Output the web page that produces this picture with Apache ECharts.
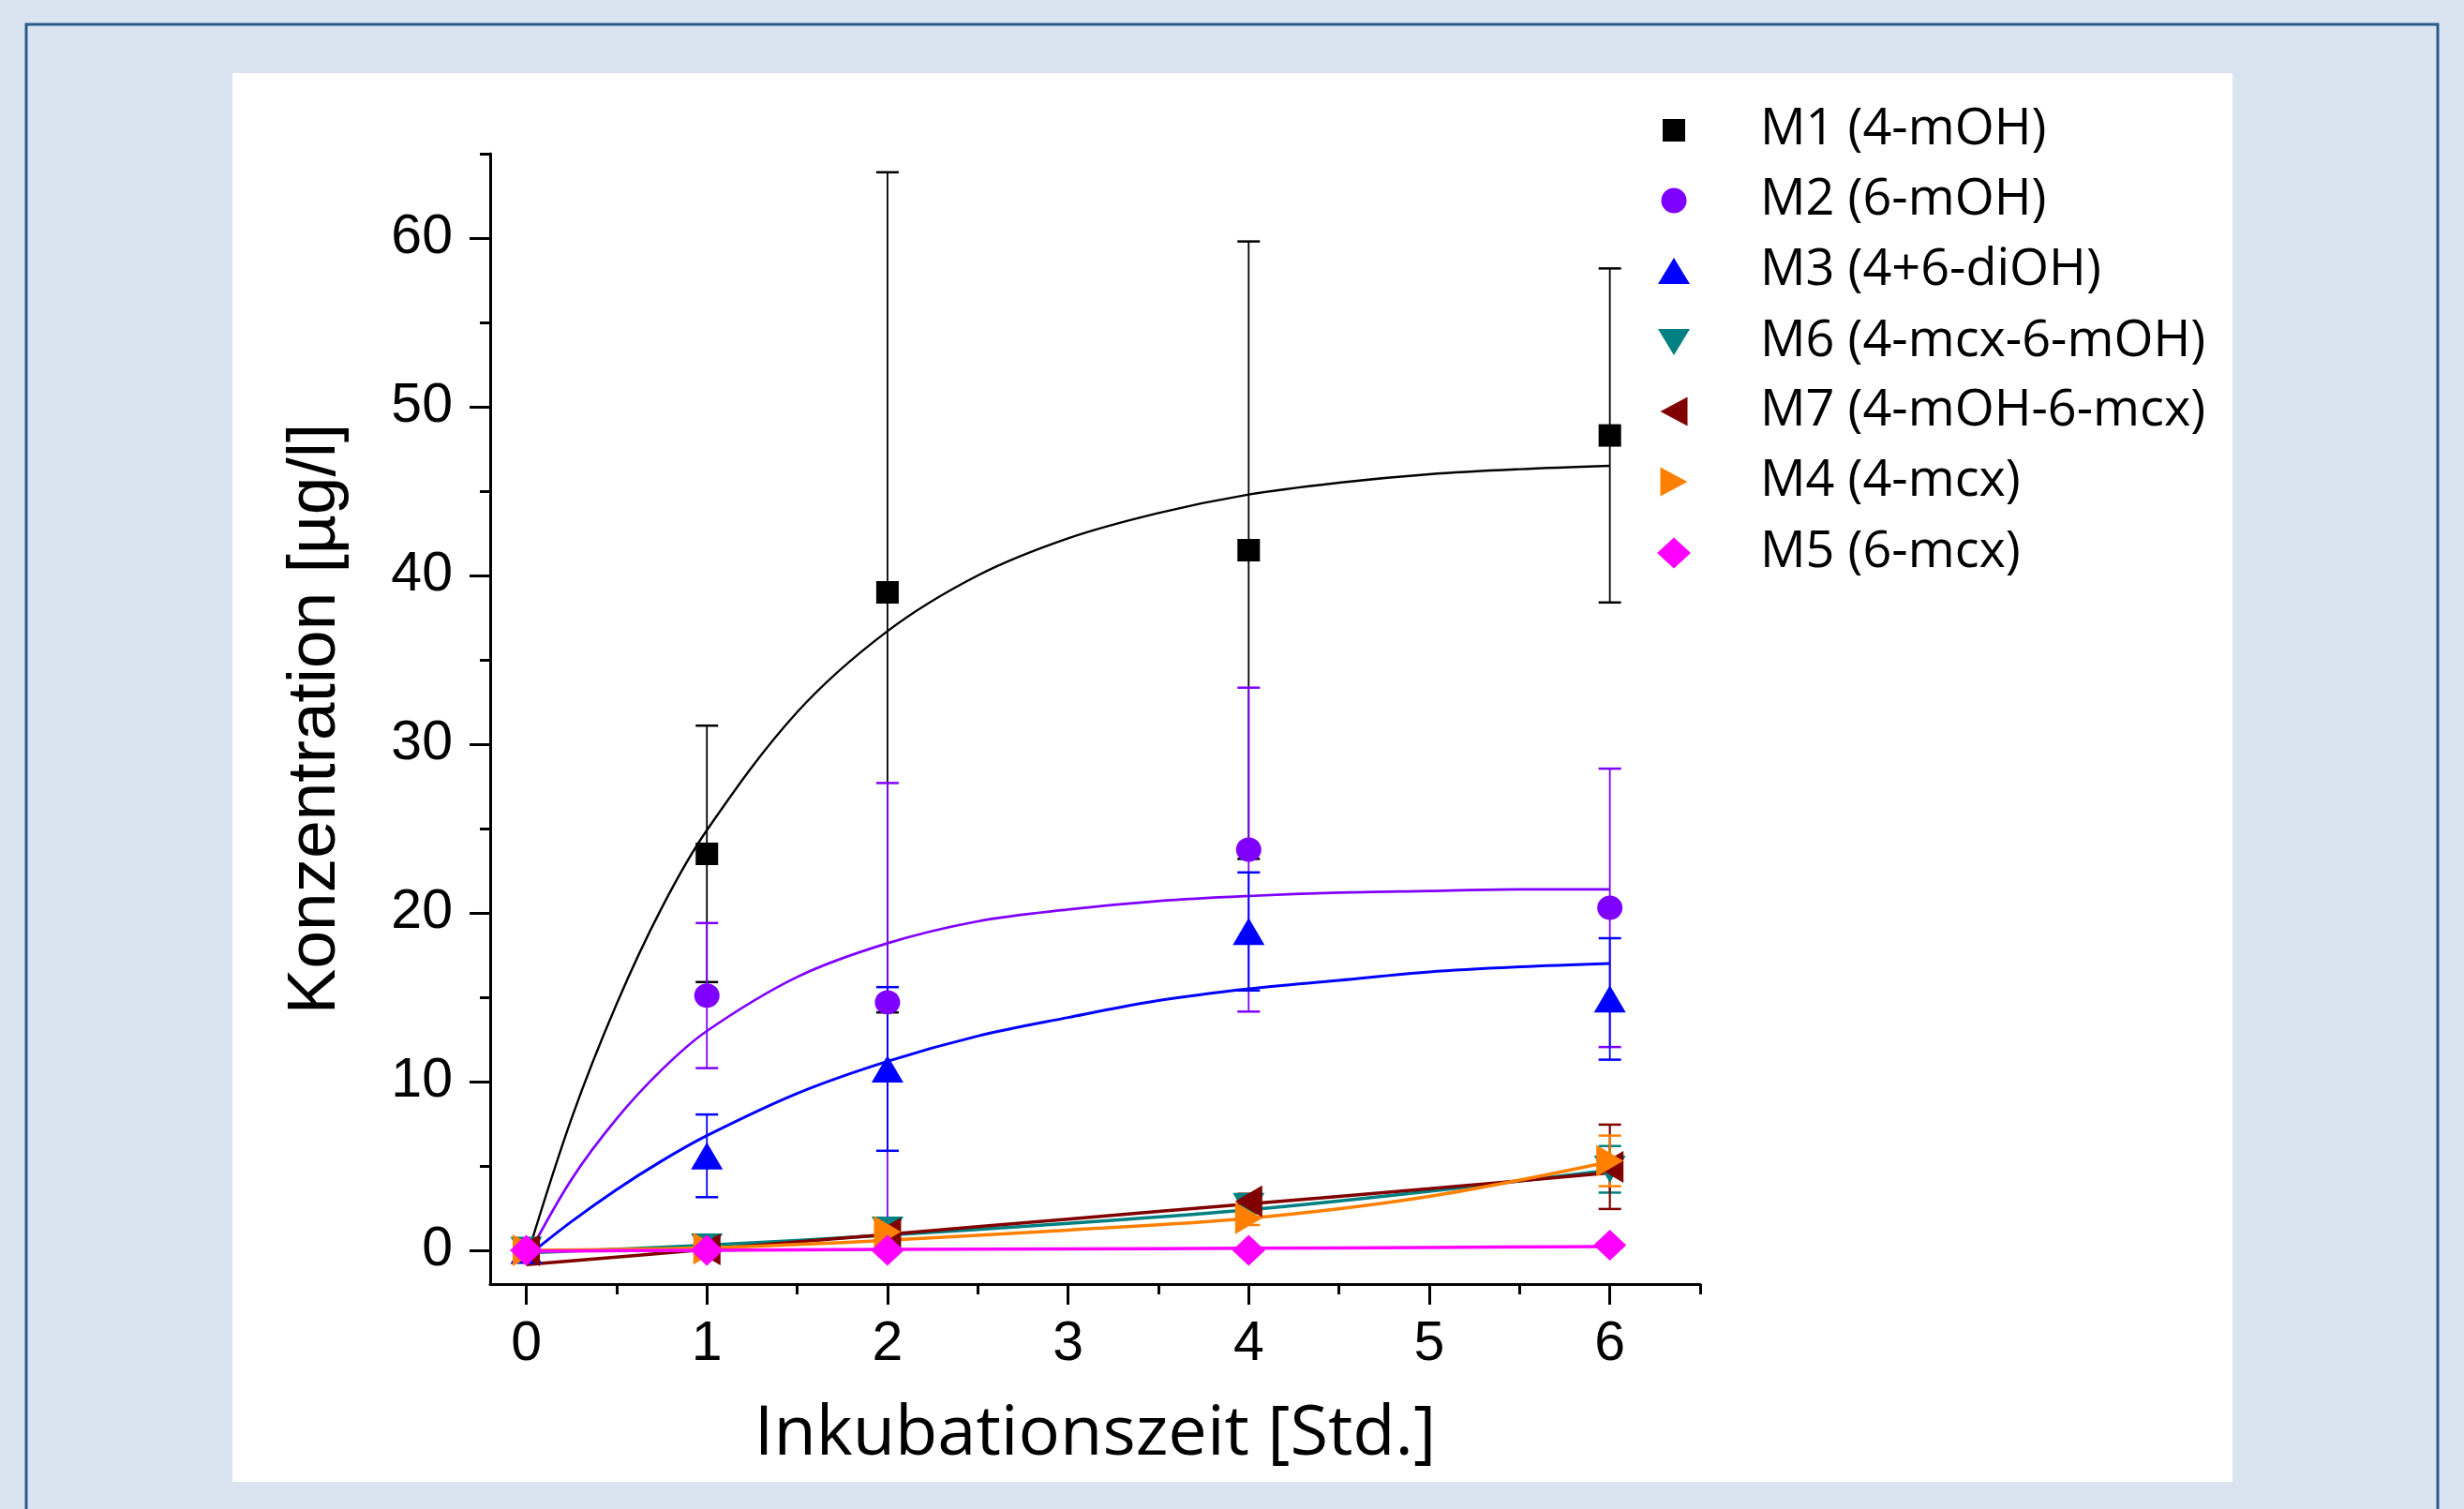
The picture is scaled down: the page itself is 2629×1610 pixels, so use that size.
<!DOCTYPE html>
<html>
<head>
<meta charset="utf-8">
<script src="https://cdn.jsdelivr.net/npm/echarts@6/dist/echarts.min.js"></script>
<style>
html,body{margin:0;padding:0;background:#D9E4F0;}
#c{width:2629px;height:1610px;}
</style>
</head>
<body>
<div id="c"></div>
<script>
// ---------------- data ----------------
const seriesNames = ['M1 (4-mOH)','M2 (6-mOH)','M3 (4+6-diOH)','M6 (4-mcx-6-mOH)','M7 (4-mOH-6-mcx)','M4 (4-mcx)','M5 (6-mcx)'];
const timePoints = [0, 1, 2, 4, 6];

const m1Mean = [0, 23.5, 39.0, 41.5, 48.3];
const m1Sd   = [0, 7.6, 24.9, 18.3, 9.9];
const m2Mean = [0, 15.1, 14.7, 23.75, 20.3];
const m2Sd   = [0, 4.3, 13.0, 9.6, 8.25];
const m3Mean = [0, 5.6, 10.75, 18.9, 14.9];
const m3Sd   = [0, 2.45, 4.85, 3.5, 3.6];
const m6Mean = [0, 0.2, 1.2, 2.6, 4.8];
const m6Sd   = [0, 0.1, 0.3, 0.4, 1.38];
const m7Mean = [0, 0.05, 1.0, 2.9, 4.95];
const m7Sd   = [0, 0.1, 0.2, 0.45, 2.5];
const m4Mean = [0, 0.1, 1.1, 1.9, 5.3];
const m4Sd   = [0, 0.1, 0.3, 0.4, 1.5];
const m5Mean = [0, 0, 0, 0, 0.3];
const m5Sd   = [0, 0, 0, 0, 0.05];

// fitted curves
const fitXA = [0, 0.25, 0.5, 0.75, 1, 1.5, 2, 2.5, 3, 3.5, 4, 4.5, 5, 5.5, 6];
const m1Fit = [-0.5, 7.8, 14.6, 20.3, 24.9, 31.9, 36.7, 40.0, 42.2, 43.7, 44.8, 45.5, 46.0, 46.3, 46.5];
const m2Fit = [-0.5, 4.2, 7.8, 10.7, 13.0, 16.2, 18.2, 19.5, 20.2, 20.7, 21.0, 21.2, 21.3, 21.4, 21.4];
const m3Fit = [-0.4, 1.7, 3.6, 5.3, 6.8, 9.3, 11.2, 12.7, 13.8, 14.8, 15.5, 16.0, 16.5, 16.8, 17.0];
const fitXB = [0, 1, 2, 3, 4, 5, 6];
const m6Fit = [-0.15, 0.3, 0.9, 1.6, 2.4, 3.5, 4.75];
const m7Fit = [-0.85, 0.05, 0.95, 1.85, 2.75, 3.65, 4.6];
const m4Fit = [0, 0.15, 0.6, 1.2, 1.9, 3.2, 5.25];
const m5Fit = [-0.05, 0, 0.05, 0.08, 0.12, 0.17, 0.22];

const xTickLabels = [0, 1, 2, 3, 4, 5, 6];
const xMinorTicks = [0.5, 1.5, 2.5, 3.5, 4.5, 5.5, 6.5];
const yTickLabels = [0, 10, 20, 30, 40, 50, 60];
const yMinorTicks = [5, 15, 25, 35, 45, 55, 65];

// ---------------- styles ----------------
const means = [m1Mean, m2Mean, m3Mean, m6Mean, m7Mean, m4Mean, m5Mean];
const sds   = [m1Sd, m2Sd, m3Sd, m6Sd, m7Sd, m4Sd, m5Sd];
const fits  = [[fitXA, m1Fit], [fitXA, m2Fit], [fitXA, m3Fit], [fitXB, m6Fit], [fitXB, m7Fit], [fitXB, m4Fit], [fitXB, m5Fit]];
const styles = [
  {color:'#000000', symbol:'rect',     size:[24,24], rot:0,   lw:2.4, ew:1.8, li:[24,24], icon:'rect'},
  {color:'#8000FF', symbol:'circle',   size:[27,26], rot:0,   lw:2.7, ew:1.8, li:[27,27], icon:'circle'},
  {color:'#0000FF', symbol:'triangle', size:[34,29], rot:0,   lw:3.0, ew:1.8, li:[34,28], icon:'triangle'},
  {color:'#008080', symbol:'triangle', size:[34,29], rot:180, lw:3.5, ew:2.2, li:[34,28], icon:'path://M0,0L2,0L1,1.732Z'},
  {color:'#800000', symbol:'triangle', size:[34,29], rot:90,  lw:3.5, ew:2.2, li:[29,31], icon:'path://M1.732,0L1.732,2L0,1Z'},
  {color:'#FF8000', symbol:'triangle', size:[34,29], rot:-90, lw:3.5, ew:2.2, li:[29,31], icon:'path://M0,0L0,2L1.732,1Z'},
  {color:'#FF00FF', symbol:'diamond',  size:[35,33], rot:0,   lw:3.5, ew:2.2, li:[36,33], icon:'diamond'}
];

// ---------------- layout ----------------
const legendRowY = [139, 214, 289, 365, 439, 514, 590];
const legendIconX = 1786, legendTextX = 1878, legendLineH = 60;

function errRender(color, width) {
  return function (params, api) {
    const x = api.value(0), lo = api.value(1), hi = api.value(2);
    const pHi = api.coord([x, hi]);
    const pLo = api.coord([x, lo]);
    const cap = 12;
    const st = {stroke: color, lineWidth: width};
    return {
      type: 'group',
      children: [
        {type:'line', shape:{x1:pHi[0], y1:pHi[1], x2:pLo[0], y2:pLo[1]}, style:st},
        {type:'line', shape:{x1:pHi[0]-cap, y1:pHi[1], x2:pHi[0]+cap, y2:pHi[1]}, style:{stroke:color, lineWidth:2.5}},
        {type:'line', shape:{x1:pLo[0]-cap, y1:pLo[1], x2:pLo[0]+cap, y2:pLo[1]}, style:{stroke:color, lineWidth:2.5}}
      ]
    };
  };
}

const series = [];
// fit curves
fits.forEach((f, i) => {
  series.push({
    type:'line', name: seriesNames[i] + ' fit', silent:true, z:2,
    data: f[0].map((x, j) => [x, f[1][j]]),
    smooth:0.35, showSymbol:false, symbol:'none',
    lineStyle:{color:styles[i].color, width:styles[i].lw},
    animation:false
  });
});
// error bars
means.forEach((m, i) => {
  const d = [];
  timePoints.forEach((t, j) => { if (sds[i][j] > 0.06) d.push([t, m[j]-sds[i][j], m[j]+sds[i][j]]); });
  series.push({
    type:'custom', name: seriesNames[i] + ' err', silent:true, z:3,
    renderItem: errRender(styles[i].color, styles[i].ew),
    encode:{x:0, y:[1,2]}, data:d, animation:false
  });
});
// markers
means.forEach((m, i) => {
  series.push({
    type:'scatter', name: seriesNames[i], z:4,
    symbol: styles[i].symbol, symbolSize: styles[i].size, symbolRotate: styles[i].rot,
    itemStyle:{color:styles[i].color, opacity:1},
    data: timePoints.map((t, j) => [t, m[j]]),
    animation:false
  });
});

const legends = styles.map((s, i) => ({
  show:true, orient:'vertical', padding:0, itemGap:0, selectedMode:false,
  left: legendIconX - s.li[0]/2, top: legendRowY[i] - legendLineH/2,
  itemWidth: s.li[0], itemHeight: s.li[1], symbolKeepAspect:false,
  data:[{name: seriesNames[i], icon: s.icon, itemStyle:{color: s.color}}],
  textStyle:{fontFamily:'Open Sans', fontSize:54, lineHeight:legendLineH, color:'#000',
    padding:[0,0,0, legendTextX - legendIconX - s.li[0]/2 - 5]}
}));

const axisFont = {fontFamily:'Liberation Sans', fontSize:59, color:'#000'};

const option = {
  backgroundColor:'#D9E4F0',
  animation:false,
  graphic:[
    {type:'rect', z:-10, shape:{x:248, y:78, width:2134, height:1503}, style:{fill:'#FFFFFF'}},
    {type:'polyline', z:-9, shape:{points:[[28,1610],[28,26],[2601,26],[2601,1610]]}, style:{stroke:'#2B5A88', lineWidth:3, fill:null}}
  ],
  grid:{left:523, top:164, width:1291, height:1206, containLabel:false},
  legend: legends,
  xAxis:[
    {type:'value', min:-0.2, max:6.5, position:'bottom',
     name:'Inkubationszeit [Std.]', nameLocation:'middle', nameGap:124,
     nameTextStyle:{fontFamily:'Open Sans', fontSize:74, color:'#000'},
     axisLine:{show:true, onZero:false, lineStyle:{color:'#000', width:3}},
     axisTick:{show:true, customValues:xTickLabels, length:22, lineStyle:{color:'#000', width:3}},
     axisLabel:{show:true, customValues:xTickLabels, margin:35, ...axisFont},
     splitLine:{show:false}},
    {type:'value', min:-0.2, max:6.5, position:'bottom',
     axisLine:{show:false, onZero:false},
     axisTick:{show:true, customValues:xMinorTicks, length:11, lineStyle:{color:'#000', width:3}},
     axisLabel:{show:false},
     splitLine:{show:false}}
  ],
  yAxis:[
    {type:'value', min:-2, max:65, position:'left',
     name:'Konzentration [µg/l]', nameLocation:'middle', nameGap:150, nameRotate:90,
     nameTextStyle:{fontFamily:'Liberation Sans', fontSize:73, color:'#000'},
     axisLine:{show:true, onZero:false, lineStyle:{color:'#000', width:3}},
     axisTick:{show:true, customValues:yTickLabels, length:22, lineStyle:{color:'#000', width:3}},
     axisLabel:{show:true, customValues:yTickLabels, margin:40, ...axisFont},
     splitLine:{show:false}},
    {type:'value', min:-2, max:65, position:'left',
     axisLine:{show:false, onZero:false},
     axisTick:{show:true, customValues:yMinorTicks, length:11, lineStyle:{color:'#000', width:3}},
     axisLabel:{show:false},
     splitLine:{show:false}}
  ],
  series: series
};

const chart = echarts.init(document.getElementById('c'), null, {renderer:'canvas', width:2629, height:1610});
chart.setOption(option);
</script>
</body>
</html>
